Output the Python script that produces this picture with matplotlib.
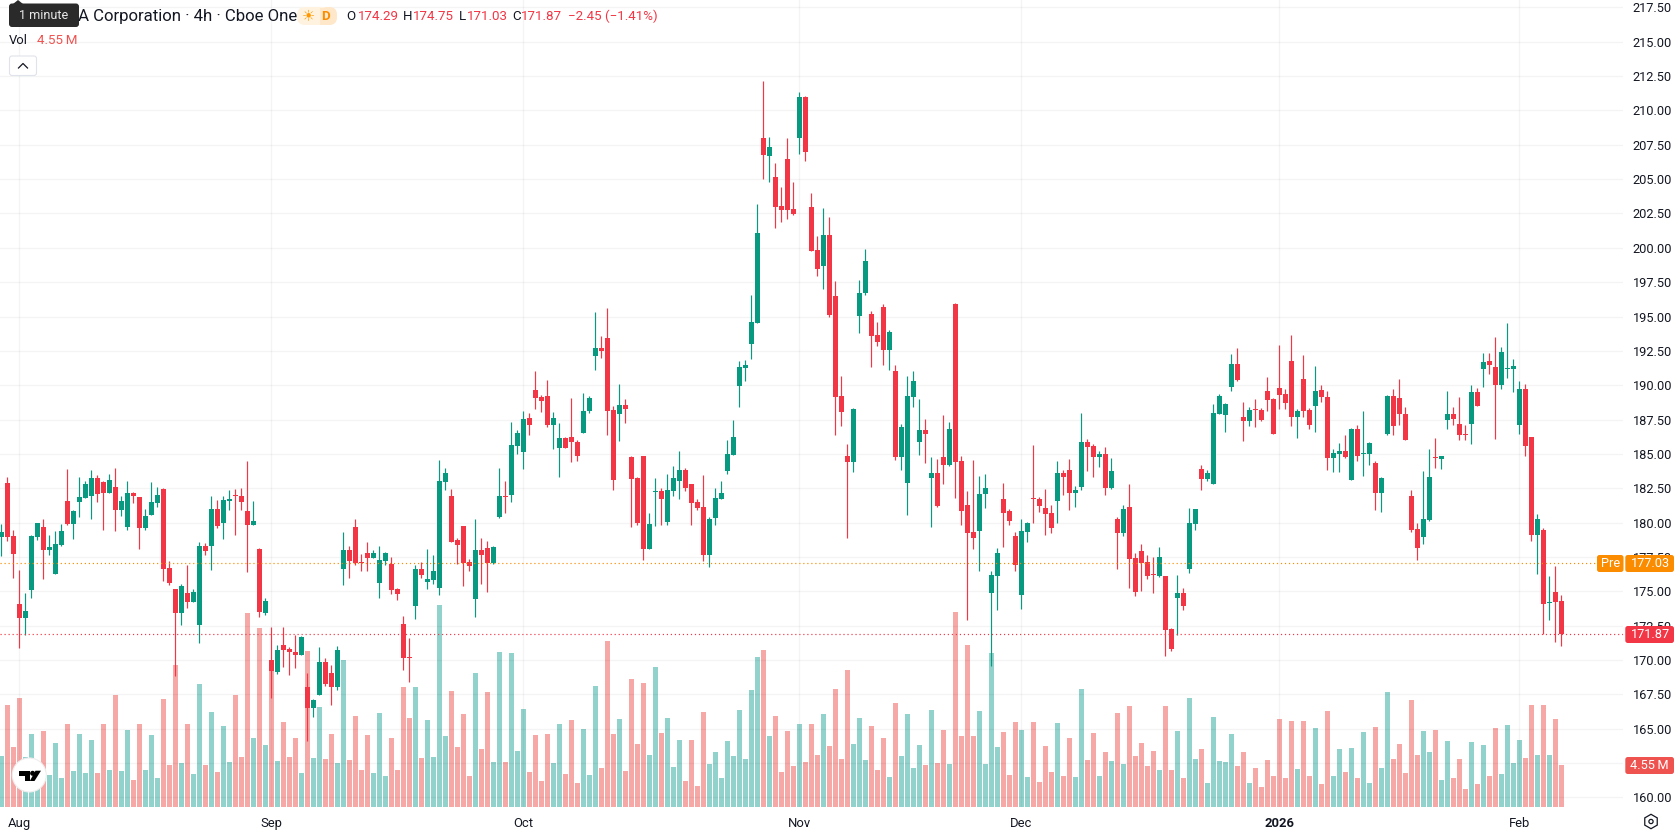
import numpy as np
import matplotlib
matplotlib.use("Agg")
import matplotlib.pyplot as plt
from matplotlib.patches import FancyBboxPatch, Circle, Polygon, RegularPolygon, Rectangle

plt.rcParams['font.family'] = ['Roboto', 'DejaVu Sans']

## ---------- 4h bars ---------- ##
opens = [
    178.95, 182.88, 179.03, 174.08, 173.06, 175.10, 178.95, 179.68, 178.01, 176.26,
    178.37, 181.57, 179.90, 181.50, 181.79, 181.94, 183.25, 182.96, 182.15, 182.59,
    180.92, 179.68, 182.15, 181.86, 179.61, 180.55, 181.43, 182.45, 176.70, 175.17,
    173.42, 174.88, 174.22, 172.55, 178.30, 178.30, 180.99, 179.97, 181.57, 182.01,
    181.94, 180.84, 179.83, 178.08, 173.42, 170.00, 169.13, 171.09, 170.80, 170.58,
    170.36, 168.04, 166.51, 167.45, 169.86, 169.05, 168.04, 176.62, 178.01, 179.68,
    177.13, 177.79, 177.42, 175.60, 177.21, 176.99, 175.17, 172.62, 170.22, 173.93,
    176.62, 175.67, 175.82, 175.24, 182.96, 181.94, 178.74, 179.76, 177.13, 174.44,
    178.00, 178.15, 177.06, 180.41, 181.94, 182.01, 185.58, 185.14, 187.62, 189.65,
    189.14, 189.22, 187.11, 185.43, 186.16, 186.23, 185.87, 186.52, 188.13, 192.13,
    192.71, 193.44, 188.20, 187.91, 188.56, 184.78, 183.25, 184.85, 178.08, 182.23,
    182.30, 180.05, 182.30, 183.03, 183.83, 182.81, 181.50, 181.14, 177.65, 180.34,
    181.72, 183.76, 184.92, 189.95, 191.26, 193.00, 194.53, 207.99, 206.68, 205.15,
    203.04, 206.46, 202.83, 207.99, 210.98, 202.97, 199.84, 198.68, 200.93, 196.49,
    189.22, 184.85, 184.41, 195.04, 196.71, 195.18, 193.66, 195.69, 192.56, 191.04,
    184.78, 182.88, 189.14, 185.87, 186.74, 183.25, 183.61, 184.78, 184.19, 195.91,
    184.48, 181.28, 179.32, 179.39, 182.08, 174.88, 176.11, 181.72, 180.84, 179.02,
    174.73, 179.32, 181.79, 181.72, 181.06, 180.70, 181.57, 183.61, 183.83, 182.15,
    182.59, 185.87, 185.57, 184.77, 184.99, 182.52, 180.26, 179.24, 181.13, 177.42,
    177.93, 177.13, 176.26, 176.11, 176.11, 172.26, 174.51, 174.88, 176.62, 179.90,
    183.90, 183.17, 182.81, 187.90, 187.83, 189.87, 191.54, 187.68, 187.39, 188.27,
    188.19, 189.58, 188.99, 189.80, 189.36, 191.76, 187.68, 190.45, 188.19, 188.49,
    189.65, 189.14, 184.70, 184.99, 185.21, 183.10, 186.81, 184.99, 184.99, 184.34,
    182.15, 186.45, 189.21, 189.07, 187.90, 181.94, 179.53, 178.95, 180.19, 184.77,
    184.63, 187.47, 187.90, 187.18, 186.45, 187.18, 189.50, 191.18, 191.76, 191.32,
    190.01, 191.18, 191.18, 187.10, 189.72, 186.23, 179.10, 179.46, 174.15, 174.95,
    174.29,
]
highs = [
    179.90, 183.32, 179.46, 176.55, 174.88, 179.10, 179.97, 180.26, 179.10, 179.39,
    179.90, 183.90, 180.92, 183.32, 183.03, 183.83, 183.46, 183.03, 183.54, 183.97,
    181.94, 183.03, 182.23, 181.86, 180.99, 182.96, 182.59, 182.52, 177.21, 175.17,
    175.53, 176.91, 175.17, 178.59, 178.52, 181.94, 181.65, 181.94, 182.37, 182.45,
    182.52, 184.48, 181.57, 178.15, 174.51, 172.40, 171.09, 172.40, 170.95, 171.82,
    171.75, 169.05, 167.16, 170.95, 170.15, 169.64, 171.02, 179.32, 178.30, 180.26,
    177.72, 178.59, 178.01, 178.30, 177.86, 177.50, 175.24, 173.20, 171.60, 176.91,
    177.13, 178.07, 177.64, 184.56, 183.98, 182.45, 178.88, 179.76, 177.35, 180.27,
    178.88, 178.66, 178.30, 183.98, 183.03, 187.33, 186.74, 188.13, 187.98, 191.04,
    189.29, 190.38, 188.05, 187.25, 186.23, 189.07, 186.02, 189.44, 189.22, 195.33,
    193.58, 195.62, 188.49, 190.09, 189.00, 184.85, 183.32, 184.85, 180.70, 183.25,
    182.52, 183.54, 184.12, 185.21, 183.98, 182.81, 181.72, 183.47, 180.41, 182.52,
    183.03, 186.02, 187.47, 191.76, 191.84, 196.57, 203.19, 212.14, 208.07, 206.17,
    204.43, 207.99, 204.79, 211.34, 211.05, 203.99, 200.86, 202.90, 202.24, 197.59,
    190.67, 185.72, 188.34, 197.66, 199.91, 195.40, 194.60, 195.91, 194.02, 191.47,
    187.18, 190.67, 191.04, 189.00, 187.54, 184.78, 184.63, 187.83, 187.32, 195.98,
    184.85, 182.30, 184.56, 183.39, 183.54, 176.48, 178.15, 182.88, 180.99, 179.32,
    180.26, 180.04, 185.65, 181.86, 182.44, 181.28, 184.48, 183.83, 184.63, 182.66,
    187.98, 186.08, 185.72, 185.21, 185.50, 184.70, 180.41, 181.28, 182.81, 177.79,
    178.44, 177.64, 177.50, 178.22, 176.11, 172.33, 176.19, 175.24, 181.06, 180.99,
    184.19, 183.83, 188.63, 189.36, 188.70, 192.27, 192.71, 188.78, 188.41, 188.99,
    188.34, 190.60, 189.07, 192.92, 189.72, 193.65, 188.27, 192.20, 188.34, 191.40,
    190.01, 189.58, 185.36, 185.79, 186.37, 186.88, 187.10, 188.12, 185.87, 184.48,
    183.32, 189.29, 189.72, 190.45, 188.41, 182.37, 179.97, 183.75, 185.36, 186.16,
    184.85, 189.58, 188.41, 189.14, 187.10, 190.01, 189.80, 192.34, 192.34, 193.51,
    192.78, 194.53, 191.91, 190.30, 190.09, 186.23, 180.63, 179.61, 176.11, 176.84,
    174.75,
]
lows = [
    177.57, 178.66, 175.97, 170.87, 171.82, 174.51, 178.73, 175.90, 177.64, 176.26,
    178.30, 179.83, 178.81, 180.41, 181.79, 180.26, 181.50, 179.46, 182.15, 179.39,
    180.48, 179.46, 181.43, 178.08, 179.46, 180.55, 181.14, 175.75, 175.46, 168.84,
    172.55, 173.79, 174.22, 171.24, 177.64, 176.55, 179.61, 178.81, 180.92, 179.10,
    180.92, 176.41, 179.83, 173.13, 173.28, 167.23, 168.98, 169.49, 168.91, 169.42,
    170.36, 164.11, 165.85, 167.45, 168.11, 166.73, 167.82, 175.46, 175.97, 176.91,
    176.48, 176.48, 177.42, 174.51, 176.91, 174.80, 174.37, 169.27, 168.40, 172.98,
    175.96, 175.16, 175.53, 174.73, 182.38, 178.59, 176.99, 175.38, 176.47, 173.13,
    175.53, 174.95, 176.98, 180.34, 180.70, 181.50, 185.00, 183.90, 186.38, 188.27,
    188.05, 186.96, 185.36, 183.32, 185.43, 184.41, 184.49, 186.52, 187.98, 191.11,
    191.98, 186.38, 182.38, 185.94, 187.25, 179.68, 179.83, 177.28, 178.08, 179.76,
    179.83, 179.83, 181.94, 181.72, 182.30, 179.83, 180.92, 177.21, 176.77, 179.83,
    181.72, 183.54, 184.92, 188.42, 190.31, 191.91, 194.53, 205.01, 204.79, 201.44,
    201.88, 202.10, 202.39, 206.83, 206.32, 199.77, 197.95, 197.00, 194.97, 186.38,
    187.03, 178.88, 183.69, 193.80, 196.57, 191.33, 192.86, 191.47, 191.11, 184.56,
    183.83, 180.56, 188.42, 184.92, 184.34, 179.68, 181.14, 182.81, 184.12, 181.79,
    179.82, 172.91, 178.08, 176.48, 181.06, 169.56, 173.64, 178.22, 179.82, 176.48,
    173.71, 178.59, 179.97, 180.77, 179.10, 179.24, 179.97, 182.01, 180.92, 181.13,
    182.37, 183.75, 183.32, 184.05, 182.01, 182.44, 176.62, 179.02, 175.24, 174.66,
    175.02, 175.89, 174.88, 176.04, 170.29, 170.65, 171.82, 173.64, 176.33, 179.46,
    182.37, 183.03, 182.81, 187.90, 186.59, 189.58, 190.30, 185.94, 187.03, 186.96,
    187.39, 188.12, 186.45, 188.27, 188.27, 187.03, 186.16, 187.68, 186.81, 186.59,
    188.78, 183.83, 183.68, 183.68, 184.70, 183.10, 184.48, 183.39, 184.19, 180.92,
    180.77, 186.37, 186.37, 187.10, 186.01, 179.32, 177.28, 178.44, 180.12, 183.97,
    183.90, 186.81, 187.10, 186.01, 186.01, 185.72, 188.49, 189.87, 190.81, 186.08,
    189.72, 190.52, 189.50, 186.45, 184.85, 178.66, 176.26, 171.89, 172.91, 171.31,
    171.03,
]
closes = [
    179.32, 178.95, 177.72, 173.06, 173.57, 179.03, 179.97, 178.01, 178.22, 178.44,
    179.39, 179.90, 180.84, 181.86, 182.81, 183.25, 182.08, 182.15, 183.10, 180.92,
    181.57, 182.15, 181.94, 179.61, 180.48, 181.50, 182.01, 176.62, 175.60, 173.42,
    175.39, 174.22, 174.95, 178.30, 177.93, 180.99, 179.75, 181.65, 181.72, 181.94,
    181.50, 179.83, 180.12, 173.49, 174.29, 169.20, 170.73, 170.73, 170.58, 170.36,
    171.67, 166.51, 167.09, 169.86, 168.25, 168.04, 170.73, 178.01, 177.21, 177.06,
    177.06, 177.42, 177.79, 177.28, 177.79, 175.10, 174.80, 170.15, 170.15, 176.62,
    176.18, 175.89, 176.47, 183.03, 183.61, 178.59, 178.37, 177.06, 176.84, 178.00,
    177.64, 177.06, 178.22, 181.94, 181.87, 185.65, 186.52, 187.54, 187.11, 189.07,
    188.85, 187.11, 187.62, 186.16, 185.43, 185.87, 184.85, 188.13, 189.07, 192.71,
    192.49, 188.13, 183.10, 188.56, 188.27, 183.18, 179.97, 178.08, 179.90, 182.30,
    181.72, 182.38, 183.25, 183.83, 182.52, 181.43, 181.07, 177.65, 180.27, 181.79,
    182.16, 185.00, 186.23, 191.33, 191.47, 194.60, 201.08, 206.76, 207.34, 202.97,
    202.75, 202.75, 202.46, 210.98, 206.97, 199.77, 198.46, 200.93, 195.11, 189.14,
    188.05, 184.41, 188.27, 196.71, 199.04, 193.58, 193.15, 192.56, 193.87, 184.78,
    186.96, 189.22, 190.31, 186.74, 186.45, 183.61, 181.21, 184.19, 186.81, 184.41,
    180.84, 179.24, 178.88, 182.08, 182.52, 176.19, 177.79, 180.70, 180.12, 176.91,
    179.39, 179.97, 181.72, 181.21, 180.63, 179.61, 183.61, 183.32, 182.15, 182.37,
    185.87, 185.50, 184.77, 184.99, 182.52, 183.75, 179.24, 180.99, 177.35, 174.95,
    177.06, 176.11, 176.19, 177.50, 172.18, 170.80, 174.88, 173.93, 179.97, 180.99,
    183.17, 183.61, 187.98, 189.21, 188.63, 191.54, 190.38, 187.39, 188.19, 188.19,
    187.47, 188.92, 186.45, 189.29, 188.70, 187.68, 188.12, 188.12, 187.10, 189.58,
    189.14, 184.70, 185.06, 185.21, 184.77, 186.81, 184.85, 185.06, 185.79, 182.15,
    183.25, 189.21, 187.03, 187.90, 186.01, 179.46, 178.15, 180.26, 183.32, 184.70,
    184.85, 187.90, 187.54, 186.37, 186.37, 189.50, 188.49, 191.69, 191.47, 190.01,
    192.42, 191.25, 191.40, 189.72, 185.57, 179.10, 180.26, 174.08, 174.22, 174.22,
    171.87,
]
volumes = [
    5.52, 11.05, 6.50, 11.81, 5.42, 7.91, 3.83, 8.23, 3.47, 6.93,
    3.14, 8.99, 3.90, 7.91, 3.68, 7.26, 3.68, 8.99, 4.01, 12.13,
    3.90, 8.34, 2.92, 8.99, 4.01, 7.80, 3.14, 11.70, 4.55, 15.38,
    4.77, 8.99, 3.57, 13.32, 4.55, 10.29, 3.79, 8.77, 4.87, 12.13,
    5.42, 21.01, 7.47, 19.39, 6.71, 14.73, 4.98, 9.21, 5.42, 7.47,
    3.68, 16.90, 5.31, 10.83, 5.20, 7.91, 4.77, 15.92, 5.09, 9.86,
    4.01, 7.80, 3.68, 10.18, 3.36, 7.47, 4.01, 13.00, 9.64, 13.00,
    5.31, 9.42, 5.42, 21.88, 7.69, 12.56, 6.50, 10.07, 3.36, 14.51,
    6.28, 12.45, 4.87, 16.79, 4.87, 16.68, 6.06, 10.61, 3.79, 7.80,
    2.82, 7.91, 4.77, 8.99, 3.57, 9.42, 2.60, 8.45, 3.47, 13.10,
    4.22, 17.98, 7.91, 9.53, 3.90, 13.86, 6.82, 13.43, 5.63, 15.16,
    8.01, 9.64, 4.33, 7.26, 2.82, 7.26, 2.27, 10.29, 4.66, 5.96,
    3.14, 7.15, 5.52, 10.51, 5.20, 12.67, 16.25, 17.00, 7.69, 9.86,
    3.79, 8.23, 4.44, 8.99, 4.87, 8.99, 5.63, 10.07, 6.61, 12.78,
    5.20, 14.84, 6.82, 9.64, 5.09, 8.77, 4.01, 7.47, 3.25, 11.26,
    5.52, 10.07, 4.22, 6.71, 4.55, 10.51, 4.77, 8.34, 4.66, 21.12,
    7.69, 17.55, 7.69, 10.40, 4.66, 16.68, 6.50, 8.12, 3.47, 9.21,
    8.34, 3.25, 9.21, 2.71, 6.61, 3.79, 9.10, 3.36, 7.47, 3.25,
    12.78, 5.09, 8.01, 3.36, 5.96, 4.98, 10.18, 4.66, 10.94, 5.52,
    6.93, 4.44, 6.06, 4.01, 10.94, 4.01, 8.23, 3.14, 11.81, 5.20,
    6.28, 2.60, 9.75, 4.98, 4.87, 7.91, 4.44, 5.96, 2.60, 4.22,
    2.17, 5.09, 3.36, 9.53, 3.14, 9.31, 4.12, 9.31, 3.36, 8.56,
    2.49, 10.40, 3.36, 6.28, 3.79, 6.39, 3.14, 8.12, 2.60, 8.66,
    4.22, 12.45, 5.20, 6.82, 3.68, 11.59, 5.63, 8.23, 5.96, 8.34,
    2.92, 7.15, 3.14, 5.20, 1.95, 7.04, 2.49, 6.71, 3.36, 8.56,
    3.57, 8.88, 4.77, 7.26, 5.31, 11.05, 5.63, 11.05, 5.63, 9.53,
    4.55,
]

month_labels = ['Aug', 'Sep', 'Oct', 'Nov', 'Dec', '2026', 'Feb']
month_bars = [3, 45, 87, 133, 170, 213, 253]
price_ticks = np.arange(160, 217.51, 2.5)

last_price = 171.87
pre_price = 177.03

## ---------- figure and axes ---------- ##
W, H = 1678, 835
PLOT_W, PLOT_H = 1623, 807
BAR_STEP = 6.0
PX_PER_USD = 13.74
PX_PER_MVOL = 9.23

UP, DOWN = '#089981', '#F23645'
VOL_UP, VOL_DOWN = '#26A69A', '#EF5350'
INK = '#131722'

fig = plt.figure(figsize=(W / 100, H / 100), dpi=100, facecolor='white')
rect = [0, (H - PLOT_H) / H, PLOT_W / W, PLOT_H / H]

ax_vol = fig.add_axes(rect, zorder=1)
ax = fig.add_axes(rect, zorder=2)
ax.patch.set_visible(False)

x = np.arange(len(opens))
o, h, l, c = map(np.array, (opens, highs, lows, closes))
v = np.array(volumes)
is_down = c < o

xlim = (-1.3 / BAR_STEP, (PLOT_W - 1.3) / BAR_STEP)
for a in (ax, ax_vol):
    a.set_xlim(*xlim)
    for s in a.spines.values():
        s.set_visible(False)

ax.set_ylim(170 - (PLOT_H - 660) / PX_PER_USD, 170 + 660 / PX_PER_USD)
ax_vol.set_ylim(0, PLOT_H / PX_PER_MVOL)
ax_vol.set_xticks([])
ax_vol.set_yticks([])

# volume sits under the candles
ax_vol.bar(x, v, width=5 / BAR_STEP, linewidth=0, alpha=0.5,
           color=[VOL_DOWN if d else VOL_UP for d in is_down])

# wicks, then bodies
colors = [DOWN if d else UP for d in is_down]
ax.vlines(x, l, h, colors=colors, linewidth=0.85, zorder=3)
ax.bar(x, np.abs(c - o), bottom=np.minimum(o, c), width=5 / BAR_STEP,
       color=colors, linewidth=0, zorder=4)

# last and pre-market price lines
ax.axhline(pre_price, color='#FB8C00', lw=0.85, ls=(0, (1, 2.4)), zorder=5)
ax.axhline(last_price, color=DOWN, lw=0.85, ls=(0, (1, 2.4)), zorder=5)

ax.set_axisbelow(True)
ax.grid(True, color='black', alpha=0.045, linewidth=1.0)
ax.set_xticks(month_bars)
ax.set_xticklabels(month_labels, color=INK, fontsize=9.4)
ax.get_xticklabels()[month_labels.index('2026')].set_fontweight('bold')
ax.set_yticks(price_ticks)
ax.set_yticklabels([f'{p:.2f}' for p in price_ticks], color=INK, fontsize=9.2)
ax.yaxis.tick_right()
ax.tick_params(axis='both', length=0)
ax.tick_params(axis='y', pad=7)
ax.tick_params(axis='x', pad=7)

## ---------- header, tags and widgets, in pixel coordinates ---------- ##
ui = fig.add_axes([0, 0, 1, 1], zorder=3)
ui.set_xlim(0, W)
ui.set_ylim(H, 0)
ui.axis('off')


def rounded(x0, y0, w, h_, face, edge='none', r=2.5, lw=0.0):
    ui.add_patch(FancyBboxPatch((x0, y0), w, h_, boxstyle=f'round,pad=0,rounding_size={r}',
                                facecolor=face, edgecolor=edge, linewidth=lw))


# symbol title under the tooltip
ui.text(78, 16, 'A Corporation · 4h · Cboe One', fontsize=12.1, color=INK, va='center')

# session pill
rounded(297, 7, 40, 18, '#FFF3E0', r=8)
ui.add_patch(Rectangle((320, 7.5), 10, 17, facecolor='#FFE7C9', linewidth=0))
rounded(320, 7, 17, 18, '#FFE7C9', r=8)
ui.text(308, 15.5, '\u2600', fontsize=10.5, color='#FF9800', ha='center', va='center',
        family=['DejaVu Sans'])
ui.text(326, 16, 'D', fontsize=9.6, color='#FB8C00', ha='center', va='center', fontweight='bold')

# OHLC readout
readout = [(346, 'O', INK), (358, '174.29', DOWN), (403, 'H', INK), (413, '174.75', DOWN),
           (459, 'L', INK), (466.5, '171.03', DOWN), (512.5, 'C', INK), (521, '171.87', DOWN),
           (568, '\u22122.45 (\u22121.41%)', DOWN)]
for px, txt, col in readout:
    ui.text(px, 16, txt, fontsize=9.6, color=col, va='center')

ui.text(9, 40.5, 'Vol', fontsize=9.4, color=INK, va='center')
ui.text(36.6, 40.5, '4.55\u2009M', fontsize=9.6, color=VOL_DOWN, va='center')

# collapse button
rounded(9.5, 56, 27, 19.5, 'white', edge='#E0E3EB', r=2.5, lw=0.8)
ui.plot([18.5, 23, 27.5], [68, 63.5, 68], color=INK, lw=0.9)

# tooltip
ui.add_patch(Polygon([[13, 4], [18, 0], [23, 4]], closed=True, facecolor='#2A2A2A', linewidth=0))
rounded(9, 3.5, 70, 23.5, '#2A2A2A', r=3)
ui.text(44, 15.5, '1 minute', fontsize=9.0, color='#E8E8E8', ha='center', va='center')

# price tags
rounded(1597, 555, 26.5, 17, '#FB8C00')
ui.text(1610.3, 563.7, 'Pre', fontsize=9.2, color='white', ha='center', va='center')
rounded(1625.3, 555, 48.7, 17, '#FB8C00')
ui.text(1650, 563.7, f'{pre_price:.2f}', fontsize=9.2, color='white', ha='center', va='center')
rounded(1625.3, 626, 48.7, 17, DOWN)
ui.text(1650, 634.7, f'{last_price:.2f}', fontsize=9.2, color='white', ha='center', va='center')
rounded(1625.3, 757, 48.7, 17, VOL_DOWN)
ui.text(1649.5, 765.7, '4.55\u2009M', fontsize=9.2, color='white', ha='center', va='center')

# settings hexagon in the corner
ui.add_patch(RegularPolygon((1651, 821.5), 6, radius=7.2, orientation=np.pi / 2 + np.pi / 6,
                            facecolor='none', edgecolor=INK, linewidth=0.9))
ui.add_patch(Circle((1651, 821.5), 2.1, facecolor='none', edgecolor=INK, linewidth=0.9))

# TradingView badge
ui.add_patch(Circle((29.3, 775), 17, facecolor='white', edgecolor='#EEEEEE', linewidth=0.8))
ui.add_patch(Polygon([[19, 770.7], [30, 770.7], [30, 781], [25, 781], [25, 776], [19, 776]],
                     closed=True, facecolor='black', linewidth=0))
ui.add_patch(Circle((32.6, 773.3), 2.5, facecolor='black', linewidth=0))
ui.add_patch(Polygon([[35.5, 770.7], [41, 770.7], [34.5, 781], [29.8, 781]],
                     closed=True, facecolor='black', linewidth=0))

fig.savefig('out.png', dpi=100)
